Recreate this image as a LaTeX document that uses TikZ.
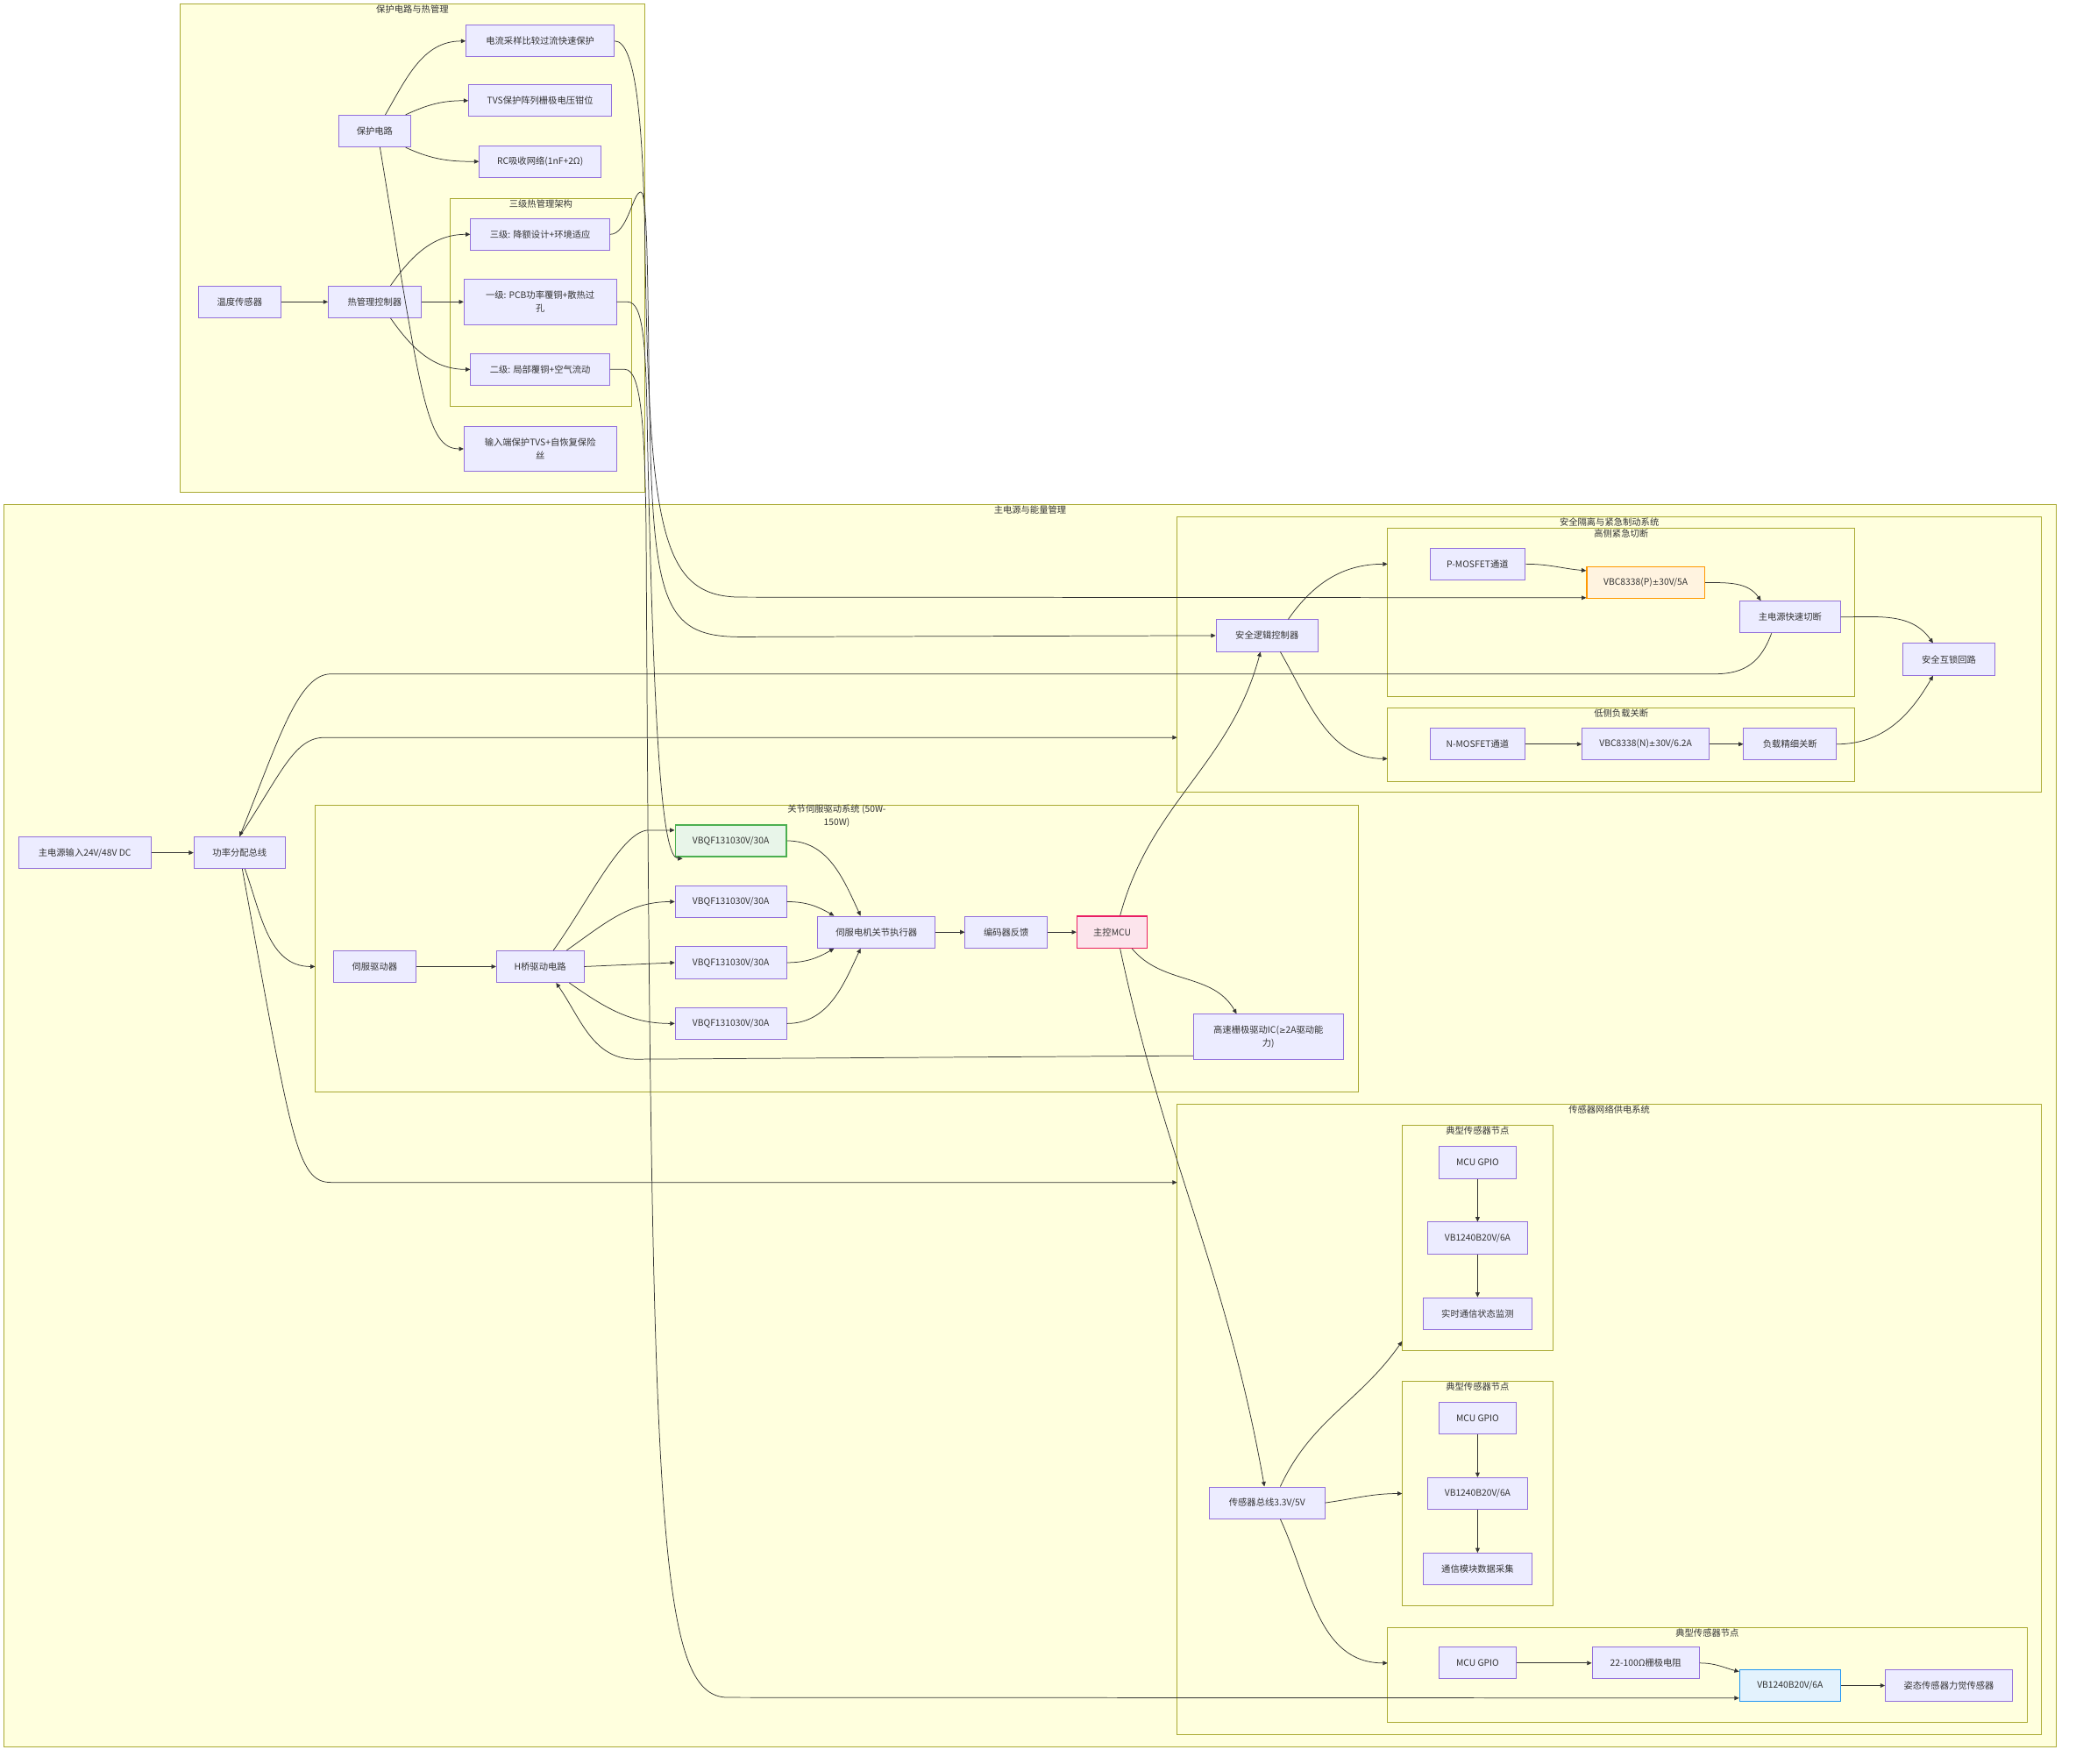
\documentclass[tikz,border=0pt]{standalone}
\usepackage{fontspec}
\setmainfont{Noto Sans CJK SC}
\newfontfamily\symfnt{DejaVu Sans}
\usetikzlibrary{arrows.meta,calc}
\definecolor{nodefill}{HTML}{ECECFF}
\definecolor{nodeline}{HTML}{9370DB}
\definecolor{grpfill}{HTML}{FFFFDE}
\definecolor{grpline}{HTML}{AAAA33}
\definecolor{edgecol}{HTML}{333333}
\definecolor{greenfill}{HTML}{E8F5E9}
\definecolor{greenline}{HTML}{4CAF50}
\definecolor{orangefill}{HTML}{FFF3E0}
\definecolor{orangeline}{HTML}{FF9800}
\definecolor{pinkfill}{HTML}{FCE4EC}
\definecolor{pinkline}{HTML}{E91E63}
\definecolor{bluefill}{HTML}{E3F2FD}
\definecolor{blueline}{HTML}{2196F3}
\newcommand{\pmsym}{{\symfnt\fontsize{8.5}{14}\selectfont ±}}
\newcommand{\gesym}{{\symfnt\fontsize{8.5}{14}\selectfont ≥}}

\begin{document}
\begin{tikzpicture}[
  x=0.05cm, y=-0.05cm,
  font=\fontsize{9.7}{14}\selectfont,
  box/.style={draw=nodeline, fill=nodefill, line width=0.9pt, text=edgecol,
              align=center, inner sep=1pt, minimum height=1.2cm},
  tall/.style={minimum height=1.7cm},
  bw/.style={minimum width=#1*0.05cm},
  pwrgreen/.style={draw=greenline, fill=greenfill, line width=1.3pt},
  pwrorange/.style={draw=orangeline, fill=orangefill, line width=1.3pt},
  mcured/.style={draw=pinkline, fill=pinkfill, line width=1.3pt},
  senseblue/.style={draw=blueline, fill=bluefill, line width=1.3pt},
  grp/.style={draw=grpline, fill=grpfill, line width=0.9pt},
  gtitle/.style={anchor=north, text=edgecol, inner sep=1pt, align=center},
  arr/.style={-{Triangle[length=5pt,width=4.5pt]}, draw=edgecol, line width=0.7pt}
]
\path[use as bounding box, fill=white] (0,0) rectangle (1568,1332);

% groups
\draw[grp] (136,3) rectangle (487,372);
\node[gtitle] (protT) at (311.5,3) {保护电路与热管理};
\draw[grp] (340,150) rectangle (477,307);
\node[gtitle] (thermT) at (408.5,150) {三级热管理架构};
\draw[grp] (3,381) rectangle (1553,1319);
\node[gtitle] (mainT) at (778,381) {主电源与能量管理};
\draw[grp] (889,390) rectangle (1542,598);
\node[gtitle] (safeT) at (1215.5,390) {安全隔离与紧急制动系统};
\draw[grp] (1048,399) rectangle (1401,526);
\node[gtitle] (hsT) at (1224.5,399) {高侧紧急切断};
\draw[grp] (1048,535) rectangle (1401,590);
\node[gtitle] (lsT) at (1224.5,535) {低侧负载关断};
\draw[grp] (238,608) rectangle (1026,825);
\node[gtitle] (servoT) at (632,607) {关节伺服驱动系统 (50W-\\150W)};
\draw[grp] (889,834) rectangle (1542,1310);
\node[gtitle] (sensT) at (1215.5,834) {传感器网络供电系统};
\draw[grp] (1059,850) rectangle (1173,1020);
\node[gtitle] (n1T) at (1116,850) {典型传感器节点};
\draw[grp] (1059,1043) rectangle (1173,1213);
\node[gtitle] (n2T) at (1116,1043) {典型传感器节点};
\draw[grp] (1048,1229) rectangle (1531,1301);
\node[gtitle] (n3T) at (1289.5,1229) {典型传感器节点};

\coordinate (safeIn) at (889,557);
\coordinate (servoIn) at (238,730);
\coordinate (sensIn) at (889,893);
\coordinate (hsIn) at (1048,426);
\coordinate (lsIn) at (1048,573);
\coordinate (n1In) at (1059,1013);
\coordinate (n2In) at (1059,1128);
\coordinate (n3In) at (1048,1256);

% protection and thermal
\node[box, bw=112] (cur) at (408,31) {电流采样比较过流快速保护};
\node[box, bw=108] (tvs) at (408,76) {TVS保护阵列栅极电压钳位};
\node[box, bw=92] (rc) at (408,122) {RC吸收网络(1nF+2Ω)};
\node[box, bw=54] (prot) at (283,99) {保护电路};
\node[box, bw=105] (t3) at (408,177) {三级: 降额设计+环境适应};
\node[box, bw=115, tall] (t1) at (408,228) {一级: PCB功率覆铜+散热过\\孔};
\node[box, bw=105] (t2) at (408,279) {二级: 局部覆铜+空气流动};
\node[box, bw=62] (tsens) at (181,228) {温度传感器};
\node[box, bw=70] (tctl) at (283,228) {热管理控制器};
\node[box, bw=115, tall] (inprot) at (408,339) {输入端保护TVS+自恢复保险\\丝};

% safety
\node[box, bw=72] (pm) at (1116,426) {P-MOSFET通道};
\node[box, bw=89, pwrorange] (vbcp) at (1243,440) {VBC8338(P)\pmsym30V/5A};
\node[box, bw=76] (sfast) at (1352,466) {主电源快速切断};
\node[box, bw=69] (lock) at (1472,498) {安全互锁回路};
\node[box, bw=77] (sl) at (957,480) {安全逻辑控制器};
\node[box, bw=72] (nm) at (1116,562) {N-MOSFET通道};
\node[box, bw=96] (vbcn) at (1243,562) {VBC8338(N)\pmsym30V/6.2A};
\node[box, bw=70] (fine) at (1352,562) {负载精细关断};

% power input and servo
\node[box, bw=100] (pin) at (64,644) {主电源输入24V/48V DC};
\node[box, bw=69] (bus) at (181,644) {功率分配总线};
\node[box, bw=62] (sd) at (283,730) {伺服驱动器};
\node[box, bw=66] (hb) at (408,730) {H桥驱动电路};
\node[box, bw=84, pwrgreen] (vbq1) at (552,635) {VBQF131030V/30A};
\node[box, bw=84] (vbq2) at (552,681) {VBQF131030V/30A};
\node[box, bw=84] (vbq3) at (552,727) {VBQF131030V/30A};
\node[box, bw=84] (vbq4) at (552,773) {VBQF131030V/30A};
\node[box, bw=89] (act) at (662,704) {伺服电机关节执行器};
\node[box, bw=62] (enc) at (760,704) {编码器反馈};
\node[box, bw=53, mcured] (mcu) at (840,704) {主控MCU};
\node[box, bw=113, tall] (gdrv) at (958,783) {高速栅极驱动IC(\gesym2A驱动能\\力)};

% sensors
\node[box, bw=87] (sbus) at (957,1135) {传感器总线3.3V/5V};
\node[box, bw=58] (g1) at (1116,878) {MCU GPIO};
\node[box, bw=76] (v1) at (1116,935) {VB1240B20V/6A};
\node[box, bw=82] (rt) at (1116,992) {实时通信状态监测};
\node[box, bw=58] (g2) at (1116,1071) {MCU GPIO};
\node[box, bw=76] (v2) at (1116,1128) {VB1240B20V/6A};
\node[box, bw=82] (dc) at (1116,1185) {通信模块数据采集};
\node[box, bw=58] (g3) at (1116,1256) {MCU GPIO};
\node[box, bw=81] (res) at (1243,1256) {22-100Ω栅极电阻};
\node[box, bw=76, senseblue] (vbb) at (1352,1273) {VB1240B20V/6A};
\node[box, bw=96] (att) at (1472,1273) {姿态传感器力觉传感器};

% edges: protection and thermal
\draw[arr] (tsens) -- (tctl);
\draw[arr] ($(tctl.north)+(12,0)$) to[out=55,in=180] (t3.west);
\draw[arr] (tctl) -- (t1);
\draw[arr] ($(tctl.south)+(12,0)$) to[out=-55,in=180] (t2.west);
\draw[arr] ($(prot.north)+(8,0)$) to[out=60,in=180] (cur.west);
\draw[arr] ($(prot.north east)+(-4,0)$) to[out=25,in=180] (tvs.west);
\draw[arr] ($(prot.south east)+(-4,0)$) to[out=-25,in=180] (rc.west);
\draw[arr] ($(prot.south)+(4,0)$) .. controls (318,300) and (322,339) .. (inprot.west);
\draw[arr] (cur.east) .. controls (480,31) and (485,90) .. (487,170)
  .. controls (490,400) and (498,451) .. (560,451) -- ($(vbcp.south west)+(0,-1)$);
\draw[arr] (t3.east) .. controls (474,177) and (478,145) .. (484,145)
  .. controls (490,145) and (489,240) .. (491,330)
  .. controls (494,460) and (505,481) .. (560,481) -- (sl.west);
\draw[arr] (t1.east) -- (474,228) .. controls (486,228) and (488,260) .. (489,330)
  .. controls (494,560) and (500,648) .. ($(vbq1.south west)+(6,1)$);
\draw[arr] (t2.east) -- (472,279) .. controls (484,279) and (487,320) .. (488,400)
  .. controls (492,1150) and (496,1282) .. (550,1282) -- ($(vbb.south west)+(0,-3)$);

% edges: power distribution and safety
\draw[arr] (pin) -- (bus);
\draw[arr] (bus.north) .. controls (212,585) and (222,557) .. (245,557) -- (safeIn);
\draw[arr] ($(bus.south)+(4,0)$) to[out=-70,in=180] (servoIn);
\draw[arr] ($(bus.south)+(2,0)$) .. controls (220,860) and (224,893) .. (250,893) -- (sensIn);
\draw[arr] ($(sfast.south)+(-14,0)$) .. controls (1330,500) and (1318,509) .. (1295,509)
  -- (250,509) .. controls (225,509) and (210,560) .. (bus.north);
\draw[arr] ($(sl.north)+(16,0)$) to[out=55,in=180] (hsIn);
\draw[arr] ($(sl.south)+(10,0)$) to[out=-60,in=180] (lsIn);
\draw[arr] (pm.east) to[out=0,in=175] ($(vbcp.west)+(0,-9)$);
\draw[arr] (vbcp.east) to[out=0,in=125] ($(sfast.north)+(-22,0)$);
\draw[arr] (sfast.east) to[out=0,in=125] ($(lock.north)+(-12,0)$);
\draw[arr] (nm) -- (vbcn);
\draw[arr] (vbcn) -- (fine);
\draw[arr] (fine.east) to[out=0,in=-120] ($(lock.south)+(-12,0)$);

% edges: servo
\draw[arr] (sd) -- (hb);
\draw[arr] ($(hb.north)+(10,0)$) .. controls (445,680) and (470,627) .. (490,627) -- ($(vbq1.west)+(0,-8)$);
\draw[arr] ($(hb.north)+(20,0)$) to[out=35,in=180] (vbq2.west);
\draw[arr] (hb.east) -- (vbq3.west);
\draw[arr] ($(hb.south)+(22,0)$) to[out=-35,in=180] (vbq4.west);
\draw[arr] (vbq1.east) to[out=0,in=115] ($(act.north)+(-12,0)$);
\draw[arr] (vbq2.east) to[out=0,in=150] ($(act.north)+(-32,0)$);
\draw[arr] (vbq3.east) to[out=0,in=-150] ($(act.south)+(-32,0)$);
\draw[arr] (vbq4.east) to[out=0,in=-115] ($(act.south)+(-12,0)$);
\draw[arr] (act) -- (enc);
\draw[arr] (enc) -- (mcu);
\draw[arr] ($(mcu.north)+(6,0)$) to[out=75,in=-105] ($(sl.south)+(-5,0)$);
\draw[arr] ($(mcu.south)+(15,0)$) to[out=-50,in=120] ($(gdrv.north)+(-24,0)$);
\draw[arr] ($(mcu.south)+(6,0)$) to[out=-78,in=100] ($(sbus.north)+(-2,0)$);
\draw[arr] ($(gdrv.south west)+(0,-3)$) -- (480,800) to[out=180,in=-55] ($(hb.south)+(12,0)$);

% edges: sensors
\draw[arr] ($(sbus.north)+(10,0)$) to[out=65,in=-125] (n1In);
\draw[arr] (sbus.east) to[out=8,in=180] (n2In);
\draw[arr] ($(sbus.south)+(10,0)$) to[out=-65,in=180] (n3In);
\draw[arr] (g1) -- (v1);
\draw[arr] (v1) -- (rt);
\draw[arr] (g2) -- (v2);
\draw[arr] (v2) -- (dc);
\draw[arr] (g3) -- (res);
\draw[arr] (res.east) to[out=0,in=165] ($(vbb.north west)+(0,2)$);
\draw[arr] (vbb) -- (att);
\end{tikzpicture}
\end{document}
